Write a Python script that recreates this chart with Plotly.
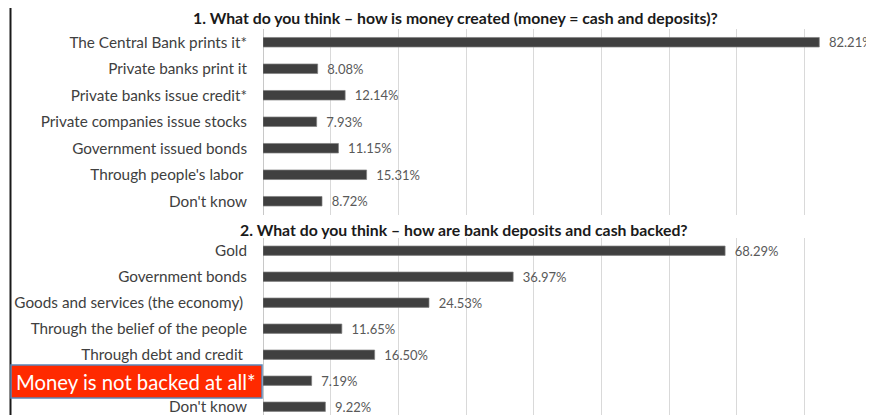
import plotly.graph_objects as go

# ---- data ----
title1 = "1. What do you think – how is money created (money = cash and deposits)?"
cats1 = ["The Central Bank prints it*", "Private banks print it", "Private banks issue credit*",
         "Private companies issue stocks", "Government issued bonds", "Through people's labor\u00a0",
         "Don't know"]
vals1 = [82.21, 8.08, 12.14, 7.93, 11.15, 15.31, 8.72]

title2 = "2. What do you think – how are bank deposits and cash backed?"
cats2 = ["Gold", "Government bonds", "Goods and services (the economy)\u00a0", "Through the belief of the people",
         "Through debt and credit\u00a0", "Money is not backed at all*", "Don't know"]
vals2 = [68.29, 36.97, 24.53, 11.65, 16.50, 7.19, 9.22]
highlight_label = "Money is not backed at all*"

W, H = 874, 415
OFF = 8            # page body margin of the html page
L = 263 - OFF      # zero line position inside the figure
FONT = "Lato"
BAR = "#404040"
TXT = "#404040"
VAL = "#595959"
GRID = "#d9d9d9"


def px_x(p):
    """page pixel x -> paper coordinate"""
    return (p - OFF - L) / (W - L)


def px_y(p):
    """page pixel y -> paper coordinate"""
    return 1 - (p - OFF) / H


fig = go.Figure()
fig.add_trace(go.Bar(y=cats1, x=vals1, orientation="h", xaxis="x", yaxis="y",
                     marker=dict(color=BAR, line=dict(color="#7f7f7f", width=0.7)),
                     width=0.36, texttemplate="\u00a0\u00a0%{x:.2f}%", textposition="outside",
                     cliponaxis=False, constraintext="none",
                     textfont=dict(family=FONT, size=13, color=VAL), showlegend=False))
tick2 = [("" if c == highlight_label else c) for c in cats2]
fig.add_trace(go.Bar(y=cats2, x=vals2, orientation="h", xaxis="x2", yaxis="y2",
                     marker=dict(color=BAR, line=dict(color="#7f7f7f", width=0.7)),
                     width=0.36, texttemplate="\u00a0\u00a0%{x:.2f}%", textposition="outside",
                     cliponaxis=False, constraintext="none",
                     textfont=dict(family=FONT, size=13, color=VAL), showlegend=False))

# zero at page x=263, 90% at page x~872
xmax = 90 * (W - L) / (872 - OFF - L)
xax = dict(range=[0, xmax], dtick=10, showticklabels=False, showgrid=True, gridcolor=GRID,
           gridwidth=1, zeroline=True, zerolinecolor="#c8c8c8", zerolinewidth=1, showline=False,
           fixedrange=True, automargin=False)
yax_common = dict(showgrid=False, zeroline=False, showline=False, ticks="", automargin=False,
                  tickfont=dict(family=FONT, size=15.3, color=TXT), ticklabelstandoff=15)

# chart 2: 7 rows of 26 px starting at page y 237.7; plot runs below the window edge
y2_bottom_page = H + OFF
y2_range_bottom = 6 + (y2_bottom_page - 406.7) / 26.0

fig.update_layout(
    width=W, height=H,
    margin=dict(l=L, r=0, t=0, b=0),
    paper_bgcolor="white", plot_bgcolor="white",
    xaxis=dict(**xax, anchor="y"),
    xaxis2=dict(**xax, anchor="y2"),
    yaxis=dict(**yax_common, domain=[px_y(214.5), px_y(29)], anchor="x",
               categoryorder="array", categoryarray=cats1, range=[6.5, -0.5]),
    yaxis2=dict(**yax_common, domain=[0, px_y(237.7)], anchor="x2",
                categoryorder="array", categoryarray=cats2, range=[y2_range_bottom, -0.5],
                tickmode="array", tickvals=cats2, ticktext=tick2),
)

fig.add_annotation(text="<b>" + title1 + "</b>", xref="paper", yref="paper",
                   x=px_x(455), y=px_y(17), showarrow=False, xanchor="center", yanchor="middle",
                   font=dict(family=FONT, size=15.8, color="#1a1a1a"))
fig.add_annotation(text="<b>" + title2 + "</b>", xref="paper", yref="paper",
                   x=px_x(463.5), y=px_y(229), showarrow=False, xanchor="center", yanchor="middle",
                   font=dict(family=FONT, size=15.8, color="#1a1a1a"))

# left border line
fig.add_shape(type="line", xref="paper", yref="paper", x0=px_x(10.5), x1=px_x(10.5), y0=0, y1=1,
              line=dict(color="#1a1a1a", width=2))
# red highlight box
fig.add_shape(type="rect", xref="paper", yref="paper", x0=px_x(11), x1=px_x(262),
              y0=px_y(398), y1=px_y(365), fillcolor="#ff2a00",
              line=dict(color="#5b86b8", width=1.5), layer="above")
fig.add_annotation(text=highlight_label, xref="paper", yref="paper",
                   x=px_x(136), y=px_y(381.5), showarrow=False, xanchor="center", yanchor="middle",
                   font=dict(family=FONT, size=20.3, color="white"))

fig.write_html("out.html")
